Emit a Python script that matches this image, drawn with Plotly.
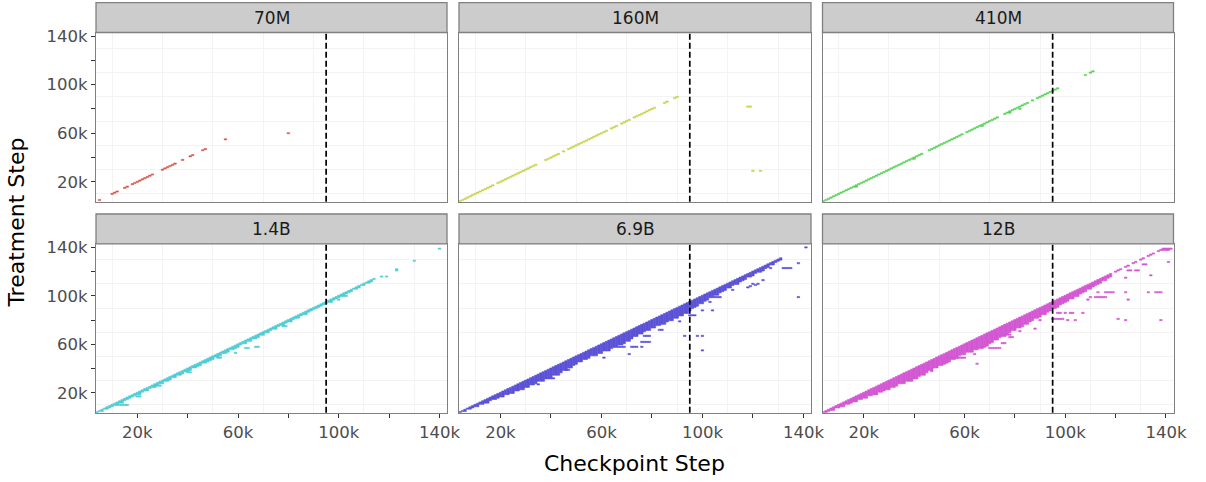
import plotly.graph_objects as go

# ---------------- data (all steps in thousands) ----------------
PANELS = ["70M", "160M", "410M", "1.4B", "6.9B", "12B"]
COLORS = ["#D65A4E", "#C9D44D", "#5BD25B", "#4FCDD5", "#5B52D7", "#D457D3"]
CUTOFF_K = 95

# checkpoint steps whose tile sits on the diagonal (treatment == checkpoint)
diag_70m = [5, 10, 11, 12, 15, 16, 18, 19, 20, 21, 22, 23, 24, 25, 26, 30, 31, 32, 33, 34, 35,
            38, 41, 42, 46, 47, 55]
off_x_70m = [80]
off_y_70m = [60]

diag_160m = [4, 5, 6, 7, 8, 9, 10, 11, 12, 13, 14, 15, 16, 17, 19, 20, 21, 22, 23, 24, 25, 26, 27,
             28, 29, 30, 31, 32, 33, 34, 38, 39, 40, 41, 42, 43, 45, 47, 48, 49, 50, 51, 52, 53, 54,
             55, 56, 57, 58, 59, 60, 61, 62, 64, 65, 66, 68, 69, 70, 71, 73, 74, 75, 76, 77, 78, 79,
             80, 81, 85, 86, 89, 90]
off_x_160m = [118, 119, 120, 123]
off_y_160m = [82, 82, 29, 29]

diag_410m = [4, 5, 6, 7, 8, 9, 10, 11, 12, 13, 14, 15, 16, 17, 18, 19, 20, 21, 22, 23, 24, 25, 26,
             27, 28, 29, 30, 31, 32, 33, 34, 35, 36, 37, 38, 39, 40, 41, 42, 43, 46, 47, 48, 49, 50,
             51, 52, 53, 54, 55, 56, 57, 58, 59, 61, 62, 63, 64, 65, 66, 67, 68, 69, 70, 71, 72, 73,
             76, 77, 78, 79, 80, 81, 82, 83, 84, 85, 87, 89, 90, 91, 92, 93, 94, 95, 96, 97, 108,
             110, 111]
off_x_410m = [17, 40, 67, 78, 82]
off_y_410m = [16, 39, 66, 77, 80]

diag_1_4b = [4, 5, 6, 7, 8, 9, 10, 11, 12, 13, 14, 15, 16, 17, 18, 19, 20, 21, 22, 23, 24, 25, 26,
             27, 28, 29, 30, 31, 32, 33, 34, 35, 36, 37, 38, 39, 40, 41, 42, 43, 44, 45, 46, 47, 48,
             49, 50, 51, 52, 53, 54, 55, 56, 57, 58, 59, 60, 61, 62, 63, 64, 65, 66, 67, 68, 69, 70,
             71, 72, 73, 74, 75, 76, 77, 78, 79, 80, 81, 82, 83, 84, 85, 86, 87, 88, 89, 90, 91, 92,
             93, 94, 95, 96, 97, 98, 99, 100, 101, 102, 103, 104, 105, 106, 107, 108, 109, 110, 111,
             112, 113, 114]
# how far below the diagonal the solid band of tiles reaches, per checkpoint
depth_1_4b = [0, 0, 1, 0, 1, 1,
              1, 1, 1, 1, 2, 1, 1, 1, 1, 1,
              1, 2, 1, 1, 2, 1, 1, 2, 1, 1,
              2, 1, 2, 2, 1, 2, 1, 2, 2, 1,
              2, 2, 1, 2, 2, 2, 1, 2, 2, 2,
              2, 1, 2, 2, 1, 2, 2, 1, 2, 2,
              2, 1, 1, 2, 1, 2, 1, 2, 2, 1,
              2, 1, 2, 1, 1, 2, 1, 1, 2, 1,
              1, 2, 1, 1, 2, 1, 1, 2, 1, 1,
              1, 1, 1, 1, 1, 1, 1, 2, 1, 1,
              1, 1, 1, 1, 1, 1, 0, 1, 1, 0,
              1, 0, 1, 1, 0]
off_x_1_4b = [12, 13, 14, 15, 16, 20, 21, 27, 28, 29, 40, 41, 52, 53, 59, 63, 64, 67, 68, 78, 79,
              100, 102, 103, 117, 119, 123, 123, 130, 140]
off_y_1_4b = [10, 10, 10, 10, 10, 17, 17, 26, 26, 26, 37, 37, 49, 49, 53, 57, 57, 58, 58, 75, 75,
              97, 100, 100, 116, 116, 122, 121, 129, 139]

diag_6_9b = [4, 5, 6, 7, 8, 9, 10, 11, 12, 13, 14, 15, 16, 17, 18, 19, 20, 21, 22, 23, 24, 25, 26,
             27, 28, 29, 30, 31, 32, 33, 34, 35, 36, 37, 38, 39, 40, 41, 42, 43, 44, 45, 46, 47, 48,
             49, 50, 51, 52, 53, 54, 55, 56, 57, 58, 59, 60, 61, 62, 63, 64, 65, 66, 67, 68, 69, 70,
             71, 72, 73, 74, 75, 76, 77, 78, 79, 80, 81, 82, 83, 84, 85, 86, 87, 88, 89, 90, 91, 92,
             93, 94, 95, 96, 97, 98, 99, 100, 101, 102, 103, 104, 105, 106, 107, 108, 109, 110, 111,
             112, 113, 114, 115, 116, 117, 118, 119, 120, 121, 122, 123, 124, 125, 126, 127, 128,
             129, 130, 131]
depth_6_9b = [0, 0, 1, 0, 1, 1,
              1, 2, 1, 2, 2, 3, 2, 2, 3, 3,
              3, 4, 3, 4, 4, 5, 4, 5, 5, 6,
              5, 6, 5, 6, 6, 5, 6, 7, 6, 7,
              7, 6, 7, 8, 7, 6, 7, 6, 7, 6,
              6, 5, 6, 5, 6, 6, 5, 6, 7, 6,
              7, 6, 7, 8, 7, 7, 8, 7, 8, 8,
              7, 8, 7, 6, 7, 6, 7, 6, 6, 7,
              6, 7, 6, 7, 7, 8, 7, 7, 8, 7,
              8, 7, 8, 7, 8, 7, 6, 6, 6, 5,
              6, 5, 5, 4, 5, 4, 5, 4, 4, 4,
              3, 4, 3, 3, 4, 3, 3, 3, 2, 3,
              3, 2, 2, 3, 2, 2, 2, 1, 2, 1,
              1, 1]
off_x_6_9b = [35, 40, 41, 46, 47, 61, 71, 67, 68, 69, 72, 73, 74, 76, 76, 77, 78, 79, 77, 78, 79,
              83, 84, 93, 98, 100, 100, 91, 95, 96, 97, 100, 104, 103, 105, 106, 107, 112, 118,
              119, 120, 121, 122, 124, 124, 127, 132, 133, 134, 135, 138, 138, 141]
off_y_6_9b = [27, 32, 32, 39, 39, 49, 52, 58, 58, 58, 58, 58, 58, 58, 62, 62, 62, 62, 67, 67, 67,
              72, 72, 67, 67, 67, 55, 79, 84, 84, 84, 88, 88, 95, 99, 99, 99, 105, 107,
              108, 110, 109, 110, 113, 121, 123, 123, 123, 123, 123, 127, 99, 140]

diag_12b = [4, 5, 6, 7, 8, 9, 10, 11, 12, 13, 14, 15, 16, 17, 18, 19, 20, 21, 22, 23, 24, 25, 26,
            27, 28, 29, 30, 31, 32, 33, 34, 35, 36, 37, 38, 39, 40, 41, 42, 43, 44, 45, 46, 47, 48,
            49, 50, 51, 52, 53, 54, 55, 56, 57, 58, 59, 60, 61, 62, 63, 64, 65, 66, 67, 68, 69, 70,
            71, 72, 73, 74, 75, 76, 77, 78, 79, 80, 81, 82, 83, 84, 85, 86, 87, 88, 89, 90, 91, 92,
            93, 94, 95, 96, 97, 98, 99, 100, 101, 102, 103, 104, 105, 106, 107, 108, 109, 110, 111,
            112, 113, 114, 115, 116, 117, 118]
depth_12b = [0, 1, 1, 1, 2, 1,
             2, 2, 3, 2, 3, 3, 3, 4, 3, 4,
             4, 5, 4, 5, 5, 6, 5, 6, 6, 6,
             7, 6, 7, 7, 6, 7, 8, 7, 8, 8,
             8, 9, 8, 8, 9, 8, 7, 8, 7, 8,
             7, 8, 8, 7, 8, 7, 8, 8, 7, 7,
             8, 7, 8, 9, 8, 9, 9, 10, 9, 10,
             9, 9, 8, 9, 8, 8, 9, 8, 8, 7,
             8, 7, 8, 8, 7, 8, 7, 7, 6, 7,
             7, 6, 7, 6, 6, 5, 6, 6, 5, 5,
             5, 5, 4, 5, 4, 5, 4, 4, 4, 3,
             4, 3, 3, 3, 3, 2, 3, 2, 2]
off_x_12b = [25, 39, 47, 52, 53, 53, 54, 55, 56, 57, 58, 59, 60, 65, 64, 67, 68, 70, 71, 72, 73,
             74, 70, 75, 76, 74, 75, 76, 77, 78, 78, 79, 82, 88, 90, 95, 96, 97, 98, 99, 97, 98,
             100, 102, 103, 107, 101, 104, 109, 110, 112, 113, 114, 115, 116, 110, 111, 113, 116,
             117, 118, 119, 124, 125, 133, 136, 137, 138, 124, 125, 126, 128, 129, 134, 141, 121,
             124, 138, 131, 132,
             120, 121, 122, 124, 125, 127, 128, 130, 131, 133, 134, 135, 137, 138, 139, 140, 141,
             142, 139, 140, 141]
off_y_12b = [19, 30, 38, 45, 45, 49, 49, 49, 49, 49, 49, 49, 49, 44, 52, 58, 58, 57, 57, 57, 57,
             57, 62, 61, 61, 68, 68, 68, 68, 68, 66, 66, 71, 73, 80, 81, 81, 81, 81, 81, 86, 86,
             86, 86, 86, 86, 80, 80, 97, 99, 99, 99, 99, 99, 99, 108, 108, 103, 103,
             103, 103, 103, 103, 97, 103, 103, 103, 103, 115, 121, 121, 121, 121, 117, 128, 81,
             80, 80, 126, 126,
             120, 121, 122, 124, 125, 127, 128, 130, 131, 133, 134, 135, 137, 138, 139, 139, 139,
             139, 138, 138, 138]

PANEL_DATA = [
    (diag_70m, None, off_x_70m, off_y_70m),
    (diag_160m, None, off_x_160m, off_y_160m),
    (diag_410m, None, off_x_410m, off_y_410m),
    (diag_1_4b, depth_1_4b, off_x_1_4b, off_y_1_4b),
    (diag_6_9b, depth_6_9b, off_x_6_9b, off_y_6_9b),
    (diag_12b, depth_12b, off_x_12b, off_y_12b),
]

TICK_VALS = [20, 40, 60, 80, 100, 120, 140]
TICK_TEXT = ["20k", "", "60k", "", "100k", "", "140k"]
GRID_VALS = [10, 30, 50, 70, 90, 110, 130]

# ---------------- layout geometry (pixels) ----------------
W, H = 1206, 482
COLS = [(96.0, 447.0), (459.0, 811.0), (822.5, 1173.5)]
ROWS = [(32.5, 201.7), (243.8, 412.7)]
STRIPS = [(2.7, 32.5), (214.0, 243.8)]
RANGE = [3.6, 143.0]
FONT = "DejaVu Sans"
BORDER = "#808080"
TICK_FONT = dict(size=16.5, color="#4D4D4D", family=FONT)


def px_x(p):
    return p / W


def px_y(p):
    return 1 - p / H


fig = go.Figure()
layout = dict(width=W, height=H,
              margin=dict(l=0, r=0, t=0, b=0, pad=0, autoexpand=False),
              paper_bgcolor="white", plot_bgcolor="white", showlegend=False,
              barmode="overlay", font=dict(family=FONT))
shapes, annotations = [], []

for i, name in enumerate(PANELS):
    r, c = divmod(i, 3)
    k = i + 1
    xa = "x" if k == 1 else f"x{k}"
    ya = "y" if k == 1 else f"y{k}"
    diag, depth, ox, oy = PANEL_DATA[i]

    xs, bases, heights = [], [], []
    for j, x in enumerate(diag):
        d = depth[j] if depth is not None else 0
        xs.append(x)
        bases.append(x - d - 0.5)
        heights.append(d + 1)
    for x, y in zip(ox, oy):
        xs.append(x)
        bases.append(y - 0.5)
        heights.append(1)

    fig.add_trace(go.Bar(x=xs, y=heights, base=bases, width=1.0, xaxis=xa, yaxis=ya,
                         marker=dict(color=COLORS[i], line=dict(color=COLORS[i], width=0.6)),
                         hoverinfo="skip"))

    x0, x1 = COLS[c]
    y0, y1 = ROWS[r]
    bottom = r == 1
    left = c == 0
    layout["xaxis" if k == 1 else f"xaxis{k}"] = dict(
        domain=[px_x(x0), px_x(x1)], anchor=ya, range=RANGE, showgrid=False, zeroline=False,
        automargin=False, fixedrange=True,
        showline=True, mirror=True, linecolor=BORDER, linewidth=1.3,
        tickmode="array", tickvals=TICK_VALS, ticktext=TICK_TEXT,
        ticks="outside" if bottom else "", ticklen=4, tickwidth=1.1, tickcolor="#333333",
        showticklabels=bottom, tickfont=TICK_FONT,
        minor=dict(tickvals=GRID_VALS, showgrid=True, gridcolor="#F3F3F3", gridwidth=0.8, ticks=""),
    )
    layout["yaxis" if k == 1 else f"yaxis{k}"] = dict(
        domain=[px_y(y1), px_y(y0)], anchor=xa, range=RANGE, showgrid=False, zeroline=False,
        automargin=False, fixedrange=True,
        showline=True, mirror=True, linecolor=BORDER, linewidth=1.3,
        tickmode="array", tickvals=TICK_VALS, ticktext=TICK_TEXT,
        ticks="outside" if left else "", ticklen=4, tickwidth=1.1, tickcolor="#333333",
        showticklabels=left, tickfont=TICK_FONT,
        minor=dict(tickvals=GRID_VALS, showgrid=True, gridcolor="#F3F3F3", gridwidth=0.8, ticks=""),
    )

    # cutoff dashed line
    shapes.append(dict(type="line", xref=xa, yref=f"{ya} domain", x0=CUTOFF_K, x1=CUTOFF_K,
                       y0=0, y1=1, line=dict(color="black", width=1.7, dash="6px,3px"),
                       layer="above"))
    # facet strip
    s0, s1 = STRIPS[r]
    shapes.append(dict(type="rect", xref="paper", yref="paper", x0=px_x(x0), x1=px_x(x1),
                       y0=px_y(s1), y1=px_y(s0), fillcolor="#CCCCCC",
                       line=dict(color=BORDER, width=1.3)))
    annotations.append(dict(text=name, xref="paper", yref="paper", x=px_x((x0 + x1) / 2),
                            y=px_y((s0 + s1) / 2), showarrow=False, xanchor="center",
                            yanchor="middle", font=dict(size=17, color="#1A1A1A", family=FONT)))

annotations.append(dict(text="Checkpoint Step", xref="paper", yref="paper", x=px_x(634.5),
                        y=px_y(463), showarrow=False, xanchor="center", yanchor="middle",
                        font=dict(size=22, color="black", family=FONT)))
annotations.append(dict(text="Treatment Step", xref="paper", yref="paper", x=px_x(17),
                        y=px_y(222.6), showarrow=False, xanchor="center", yanchor="middle",
                        textangle=-90, font=dict(size=22, color="black", family=FONT)))

layout["shapes"] = shapes
layout["annotations"] = annotations
fig.update_layout(**layout)
fig.write_html("out.html", config={"displayModeBar": False, "responsive": False},
               post_script="document.body.style.margin='0';document.body.style.overflow='hidden';")
